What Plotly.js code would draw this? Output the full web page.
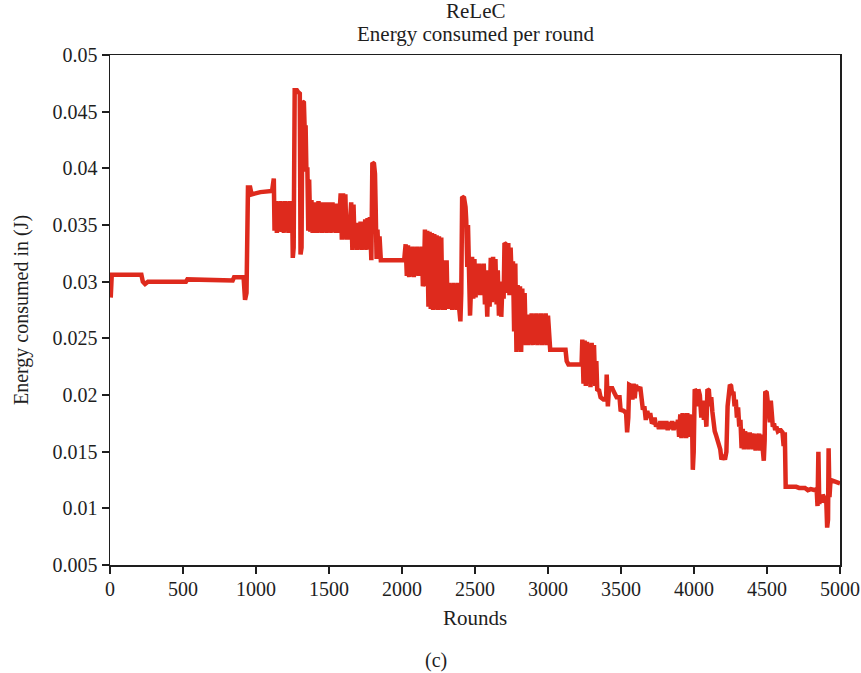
<!DOCTYPE html>
<html>
<head>
<meta charset="utf-8">
<script src="https://cdn.plot.ly/plotly-3.0.1.min.js"></script>
<style>html,body{margin:0;padding:0;background:#fff;}#chart{width:861px;height:673px;}</style>
</head>
<body>
<div id="chart"></div>
<script>
// Rounds (x) and energy consumed per round in J (y)
const rounds = [
0,5,12,215,225,240,260,520,530,700,840,850,915,925,935,945,960,970,1030,1110,
1115,1122,1127,1135,1143,1151,1159,1167,1175,1183,1191,1199,1207,1215,1223,1231,1239,1247,1252,1258,
1265,1280,1290,1300,1305,1312,1318,1328,1333,1340,1345,1352,1358,1364,1372,1380,
1388,1396,1404,1412,1420,1428,1436,1444,1452,1460,1468,1476,1484,1492,1500,1508,1516,1524,1532,1540,1548,1556,1564,1572,
1580,1588,1596,1604,1612,1620,1628,1636,1644,1652,1660,1668,1676,1684,1692,1700,1708,1716,1724,1732,1740,1748,1756,1764,1772,1780,
1790,1797,1808,1815,1820,1826,1832,1840,1846,1855,2015,
2025,2033,2041,2049,2057,2065,2073,2081,2089,2097,2105,2113,2121,2129,2137,2143,2150,
2157,2165,2173,2181,2189,2197,2205,2213,2221,2229,2237,2245,2253,2261,2269,2277,2285,2293,2300,2306,2312,
2320,2328,2336,2344,2352,2360,2368,2376,2384,2392,2400,2406,
2412,2425,2435,2440,2447,2452,2458,
2466,2474,2480,2488,2496,2504,2512,2520,2528,2536,2544,2552,2560,2568,2576,2584,2592,2600,2608,2616,2624,2632,2640,2648,2656,2664,2672,2680,2688,2696,
2702,2712,2720,2728,2736,2744,2752,2760,2768,2776,2784,
2792,2800,2808,2816,2824,2832,2840,2848,2856,2864,2872,2880,2888,2896,2904,2912,2920,2928,2936,2944,2952,2960,2968,2976,2984,2992,3000,3008,3015,
3120,3128,3140,3230,
3235,3243,3251,3259,3267,3275,3283,3291,3299,3307,3315,3323,3331,3337,3350,3360,3380,3398,3402,3410,3418,3440,3450,3470,3490,3497,3520,3535,3542,3550,
3556,3570,3578,3586,3594,3602,3610,3620,3632,3640,3650,3660,3670,3680,3690,3700,3712,3720,3730,3740,3750,3760,
3770,3780,3790,3800,3810,3820,3830,3840,3850,3860,3870,3880,3890,3898,3906,3914,3922,3930,3938,3946,3954,3962,3970,3978,3986,3992,3998,
4005,4015,4023,4030,4040,4050,4060,4068,4075,4085,4092,4102,4110,4118,4126,4134,4142,4150,4160,4170,4180,4188,4200,4212,4222,
4230,4238,4246,4254,4262,4270,4278,4286,4294,4302,4310,4318,
4326,4334,4342,4350,4358,4366,4374,4382,4390,4398,4406,4414,4422,4430,4438,4446,4454,4462,4470,4478,4484,
4488,4498,4506,4514,4520,4526,4534,4540,4548,4556,4564,4574,4584,4594,4606,4614,4622,4628,4700,4720,4760,4780,4800,4830,4840,
4846,4852,4858,4866,4874,4882,4890,4898,4906,4912,4918,4922,4928,4935,4960,5000
];
const energy = [
0.0305,0.0286,0.0306,0.0306,0.0300,0.0298,0.0300,0.0300,0.0302,0.0301,0.0301,0.0304,0.0304,0.0284,0.0290,0.0383,0.0383,0.0377,0.0379,0.0380,
0.0391,0.0391,0.0345,0.0371,0.0343,0.0370,0.0345,0.0371,0.0344,0.0370,0.0343,0.0371,0.0345,0.0370,0.0343,0.0371,0.0344,0.0370,0.0321,0.0330,
0.0469,0.0469,0.0467,0.0466,0.0324,0.0330,0.0459,0.0458,0.0436,0.0436,0.0399,0.0399,0.0345,0.0390,0.0344,0.0372,
0.0343,0.0370,0.0343,0.0370,0.0343,0.0371,0.0344,0.0370,0.0343,0.0370,0.0344,0.0370,0.0343,0.0370,0.0344,0.0370,0.0343,0.0370,0.0344,0.0369,0.0343,0.0369,0.0343,0.0369,
0.0378,0.0337,0.0378,0.0338,0.0377,0.0337,0.0355,0.0337,0.0355,0.0370,0.0328,0.0368,0.0330,0.0352,0.0328,0.0352,0.0329,0.0353,0.0328,0.0352,0.0329,0.0355,0.0328,0.0356,0.0329,0.0357,
0.0319,0.0405,0.0404,0.0395,0.0363,0.0320,0.0346,0.0320,0.0340,0.0319,0.0319,
0.0333,0.0305,0.0332,0.0304,0.0330,0.0305,0.0331,0.0304,0.0330,0.0306,0.0331,0.0305,0.0330,0.0306,0.0331,0.0296,0.0300,
0.0346,0.0296,0.0345,0.0278,0.0344,0.0276,0.0343,0.0275,0.0342,0.0276,0.0341,0.0275,0.0340,0.0276,0.0339,0.0275,0.0300,0.0275,0.0317,0.0317,0.0276,
0.0299,0.0276,0.0298,0.0275,0.0299,0.0276,0.0298,0.0275,0.0299,0.0276,0.0265,0.0290,
0.0375,0.0374,0.0366,0.0354,0.0313,0.0350,0.0300,
0.0270,0.0299,0.0322,0.0285,0.0320,0.0286,0.0315,0.0290,0.0316,0.0288,0.0315,0.0289,0.0316,0.0280,0.0300,0.0269,0.0310,0.0278,0.0321,0.0282,0.0322,0.0285,0.0320,0.0280,0.0310,0.0270,0.0300,0.0269,0.0298,0.0285,
0.0334,0.0333,0.0290,0.0334,0.0288,0.0330,0.0300,0.0318,0.0256,0.0316,0.0238,
0.0297,0.0240,0.0296,0.0238,0.0294,0.0245,0.0290,0.0244,0.0271,0.0244,0.0271,0.0245,0.0272,0.0244,0.0271,0.0245,0.0272,0.0244,0.0271,0.0245,0.0272,0.0244,0.0271,0.0245,0.0272,0.0244,0.0270,0.0245,0.0240,
0.0240,0.0230,0.0227,0.0227,
0.0249,0.0210,0.0248,0.0208,0.0247,0.0210,0.0245,0.0207,0.0246,0.0215,0.0244,0.0208,0.0230,0.0205,0.0204,0.0198,0.0196,0.0196,0.0218,0.0190,0.0206,0.0206,0.0203,0.0198,0.0198,0.0187,0.0186,0.0184,0.0167,0.0180,
0.0209,0.0208,0.0196,0.0210,0.0197,0.0209,0.0205,0.0205,0.0207,0.0198,0.0187,0.0190,0.0178,0.0186,0.0180,0.0184,0.0175,0.0176,0.0180,0.0172,0.0175,0.0170,
0.0177,0.0170,0.0177,0.0170,0.0177,0.0169,0.0176,0.0170,0.0177,0.0169,0.0176,0.0170,0.0178,0.0163,0.0183,0.0162,0.0184,0.0163,0.0183,0.0162,0.0184,0.0163,0.0183,0.0165,0.0182,0.0134,0.0150,
0.0205,0.0203,0.0190,0.0205,0.0200,0.0180,0.0195,0.0178,0.0190,0.0172,0.0205,0.0204,0.0190,0.0198,0.0185,0.0175,0.0168,0.0165,0.0160,0.0158,0.0152,0.0143,0.0147,0.0143,0.0150,
0.0190,0.0205,0.0209,0.0208,0.0200,0.0203,0.0190,0.0196,0.0180,0.0189,0.0172,0.0178,
0.0153,0.0170,0.0152,0.0168,0.0153,0.0167,0.0152,0.0167,0.0153,0.0166,0.0152,0.0166,0.0151,0.0165,0.0152,0.0166,0.0151,0.0165,0.0150,0.0142,0.0160,
0.0203,0.0202,0.0192,0.0190,0.0176,0.0195,0.0185,0.0172,0.0175,0.0169,0.0172,0.0168,0.0169,0.0169,0.0167,0.0155,0.0167,0.0119,0.0119,0.0118,0.0118,0.0116,0.0117,0.0116,0.0117,
0.0102,0.0150,0.0104,0.0110,0.0105,0.0112,0.0110,0.0105,0.0107,0.0083,0.0090,0.0153,0.0110,0.0125,0.0124,0.0122
];
const xTicks = [0,500,1000,1500,2000,2500,3000,3500,4000,4500,5000];
const yTicks = [0.005,0.01,0.015,0.02,0.025,0.03,0.035,0.04,0.045,0.05];
const yTickText = ['0.005','0.01','0.015','0.02','0.025','0.03','0.035','0.04','0.045','0.05'];
const titleLines = ['ReLeC', 'Energy consumed per round'];

const serif = '"Liberation Serif", "DejaVu Serif", serif';
const ink = '#1e1e1e';

const trace = {
  x: rounds, y: energy, type: 'scatter', mode: 'lines',
  line: {color: '#de2a1d', width: 4.5}, hoverinfo: 'skip'
};

const layout = {
  width: 861, height: 673,
  margin: {l: 110, r: 21, t: 55, b: 108},
  paper_bgcolor: '#ffffff', plot_bgcolor: '#ffffff',
  showlegend: false,
  font: {family: serif, size: 20, color: ink},
  xaxis: {
    range: [0, 5000], tickvals: xTicks, ticktext: xTicks.map(String),
    ticks: 'outside', ticklen: 7, tickwidth: 2, tickcolor: ink,
    showline: true, linecolor: ink, linewidth: 1.5, mirror: true,
    showgrid: false, zeroline: false, ticklabelstandoff: -2,
    tickfont: {family: serif, size: 20, color: ink},
    title: {text: 'Rounds', font: {family: serif, size: 21, color: ink}, standoff: 12}
  },
  yaxis: {
    range: [0.005, 0.05], tickvals: yTicks, ticktext: yTickText,
    ticks: 'outside', ticklen: 7, tickwidth: 2, tickcolor: ink,
    showline: true, linecolor: ink, linewidth: 1.5, mirror: true,
    showgrid: false, zeroline: false,
    tickfont: {family: serif, size: 20, color: ink},
    title: {text: 'Energy consumed in (J)', font: {family: serif, size: 20, color: ink}, standoff: 18}
  },
  annotations: [
    {text: titleLines[0], xref: 'paper', yref: 'paper', x: 0.5, y: 1.086, xanchor: 'center', yanchor: 'middle',
     showarrow: false, font: {family: serif, size: 21, color: ink}},
    {text: titleLines[1], xref: 'paper', yref: 'paper', x: 0.5, y: 1.042, xanchor: 'center', yanchor: 'middle',
     showarrow: false, font: {family: serif, size: 21, color: ink}},
    {text: '(c)', xref: 'paper', yref: 'paper', x: 0.447, y: -0.188, xanchor: 'center', yanchor: 'middle',
     showarrow: false, font: {family: serif, size: 20, color: ink}}
  ]
};

Plotly.newPlot('chart', [trace], layout, {displayModeBar: false, staticPlot: true});
</script>
</body>
</html>
